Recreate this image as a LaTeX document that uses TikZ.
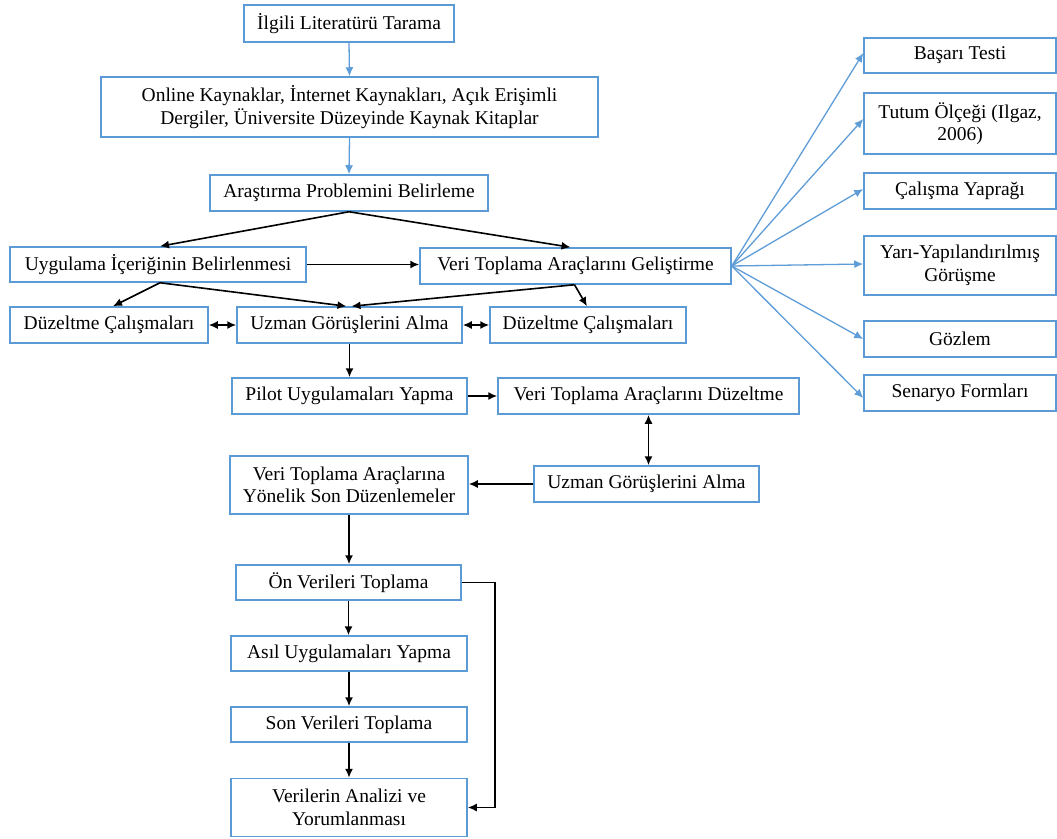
\documentclass[tikz,border=0pt]{standalone}
\usepackage{fontspec}
\setmainfont{Liberation Serif}
\usetikzlibrary{arrows.meta,calc}
\definecolor{boxblue}{RGB}{91,155,213}
\definecolor{lineblue}{RGB}{95,157,216}
\tikzset{
  box/.style={draw=boxblue, line width=1.5pt, align=center, inner sep=0pt,
    font=\fontsize{19.5}{22.5}\selectfont, text=black},
  blk/.style={draw=black, line width=1.6pt, -{Latex[length=9pt,width=8pt]}},
  blkd/.style={draw=black, line width=1.6pt, {Latex[length=9pt,width=8pt]}-{Latex[length=9pt,width=8pt]}},
  blu/.style={draw=lineblue, line width=1.3pt, -{Latex[length=9pt,width=8pt]}},
}
\begin{document}
\begin{tikzpicture}[x=1pt,y=-1pt]
\useasboundingbox (0,0) rectangle (1057,838);
% left column
\node[box, minimum width=210, minimum height=37] (ilgili) at (349,23.5) {İlgili Literatürü Tarama};
\node[box, minimum width=497, minimum height=60] (online) at (349.5,107) {Online Kaynaklar, İnternet Kaynakları, Açık Erişimli\\Dergiler, Üniversite Düzeyinde Kaynak Kitaplar};
\node[box, minimum width=278, minimum height=36] (arastirma) at (349,193) {Araştırma Problemini Belirleme};
\node[box, minimum width=296, minimum height=35] (uygulama) at (158,264.5) {Uygulama İçeriğinin Belirlenmesi};
\node[box, minimum width=311, minimum height=36] (gelistirme) at (575.5,266) {Veri Toplama Araçlarını Geliştirme};
\node[box, minimum width=198, minimum height=36] (duz1) at (109,325) {Düzeltme Çalışmaları};
\node[box, minimum width=225, minimum height=36] (uzman1) at (349.5,325) {Uzman Görüşlerini Alma};
\node[box, minimum width=196, minimum height=36] (duz2) at (588,325) {Düzeltme Çalışmaları};
\node[box, minimum width=235, minimum height=36] (pilot) at (349.5,396) {Pilot Uygulamaları Yapma};
\node[box, minimum width=301, minimum height=36] (vtduz) at (648.5,396) {Veri Toplama Araçlarını Düzeltme};
\node[box, minimum width=225, minimum height=36] (uzman2) at (646.5,484) {Uzman Görüşlerini Alma};
\node[box, minimum width=238, minimum height=58] (sonduz) at (349,485) {Veri Toplama Araçlarına\\Yönelik Son Düzenlemeler};
\node[box, minimum width=225, minimum height=35] (onveri) at (348.5,582.5) {Ön Verileri Toplama};
\node[box, minimum width=236, minimum height=35] (asil) at (349,653.5) {Asıl Uygulamaları Yapma};
\node[box, minimum width=236, minimum height=35] (sonveri) at (349,724.5) {Son Verileri Toplama};
\node[box, minimum width=236, minimum height=58] (analiz) at (349,807.5) {Verilerin Analizi ve\\Yorumlanması};
% right column
\node[box, minimum width=192, minimum height=35] (basari) at (960,55.5) {Başarı Testi};
\node[box, minimum width=192, minimum height=61] (tutum) at (960,123.5) {Tutum Ölçeği (Ilgaz,\\2006)};
\node[box, minimum width=192, minimum height=36] (calisma) at (960,191) {Çalışma Yaprağı};
\node[box, minimum width=192, minimum height=59] (yari) at (960,265.5) {Yarı-Yapılandırılmış\\Görüşme};
\node[box, minimum width=192, minimum height=36] (gozlem) at (960,339) {Gözlem};
\node[box, minimum width=192, minimum height=36] (senaryo) at (960,393) {Senaryo Formları};
% blue chain
\draw[blu] (ilgili.south) -- (online.north);
\draw[blu] (online.south) -- (arastirma.north);
% black connectors
\draw[blk] (arastirma.south) -- ([xshift=2]uygulama.north);
\draw[blk] (arastirma.south) -- ([xshift=-5]gelistirme.north);
\draw[blk] (uygulama.east) -- (uygulama.east -| gelistirme.west);
\draw[blk] ([xshift=2]uygulama.south) -- ([xshift=4]duz1.north);
\draw[blk] ([xshift=2]uygulama.south) -- ([xshift=-3]uzman1.north);
\draw[blk] ([xshift=-1]gelistirme.south) -- ([xshift=2]uzman1.north);
\draw[blk] ([xshift=-1]gelistirme.south) -- ([xshift=-1]duz2.north);
\draw[blkd] (duz1.east) -- (uzman1.west);
\draw[blkd] (uzman1.east) -- (duz2.west);
\draw[blk] (uzman1.south) -- (pilot.north);
\draw[blk] (pilot.east) -- (vtduz.west);
\draw[blkd] (vtduz.south) -- (vtduz.south |- uzman2.north);
\draw[blk] (uzman2.west) -- (uzman2.west -| sonduz.east);
\draw[blk] (sonduz.south) -- (sonduz.south |- onveri.north);
\draw[blk] (onveri.south) -- (onveri.south |- asil.north);
\draw[blk] (asil.south) -- (sonveri.north);
\draw[blk] (sonveri.south) -- (analiz.north);
\coordinate (fb) at (495,600);
\draw[blk] (onveri.east) -| (fb) |- (analiz.east);
% blue fan
\draw[blu] (gelistirme.east) -- ([yshift=2.5]basari.west);
\draw[blu] (gelistirme.east) -- ([yshift=4.5]tutum.west);
\draw[blu] (gelistirme.east) -- ([yshift=2]calisma.west);
\draw[blu] (gelistirme.east) -- ([yshift=1.5]yari.west);
\draw[blu] (gelistirme.east) -- (gozlem.west);
\draw[blu] (gelistirme.east) -- ([yshift=-5]senaryo.west);
\end{tikzpicture}
\end{document}
